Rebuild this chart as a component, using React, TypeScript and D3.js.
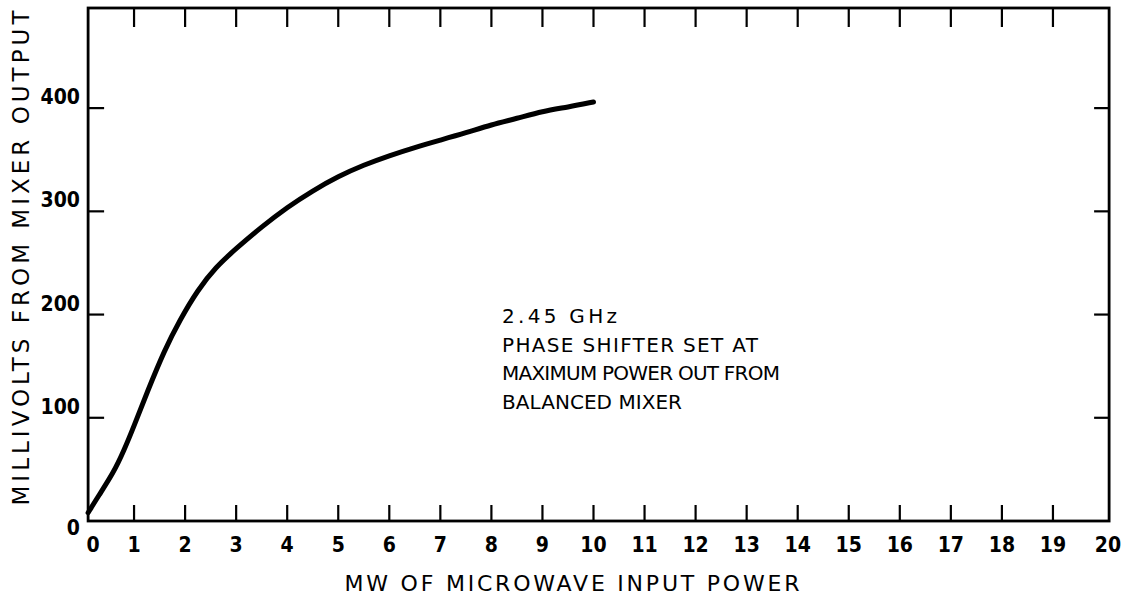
import * as d3 from "d3";

// curve: mW in -> mV out
const powerMw = [0.1, 0.3, 0.6, 0.8, 1.0, 1.25, 1.6, 1.9, 2.25, 2.6, 3.0, 3.5, 4.0, 4.5, 5.0, 5.5, 6.0, 6.5, 7.0, 7.5, 8.0, 8.5, 9.0, 9.5, 10.0];
const millivolts = [8, 24, 47, 68, 92, 124, 166, 195, 224, 246, 264, 285, 304, 320, 334, 345, 354, 362, 369, 376, 384, 390, 397, 401, 406];

const xTicks = d3.range(0, 21);
const yTicks = [0, 100, 200, 300, 400];
const xFrame = [0.1, 20.1];
const yMax = 497;

const noteLines = ["2.45 GHz", "PHASE SHIFTER SET AT", "MAXIMUM POWER OUT FROM", "BALANCED MIXER"];
const noteWidths = [115, 256, 278, 180];

const xTitle = "MW OF MICROWAVE INPUT POWER";
const yTitle = "MILLIVOLTS FROM MIXER OUTPUT";

const W = 1122;
const H = 603;
const font = "'DejaVu Sans', sans-serif";
const narrow = "'DejaVu Sans Condensed', 'DejaVu Sans', sans-serif";

export default function App() {
  const x = d3.scaleLinear().domain([0, 20]).range([83, 1104]);
  const y = d3.scaleLinear().domain([0, yMax]).range([521, 8]);

  const left = x(xFrame[0]);
  const right = x(xFrame[1]);
  const top = y(yMax);
  const bottom = y(0);

  const pts = powerMw.map((p, i) => [p, millivolts[i]] as [number, number]);
  const line = d3
    .line<[number, number]>()
    .x((d) => x(d[0]))
    .y((d) => y(d[1]))
    .curve(d3.curveBasis);

  const inner = xTicks.filter((t) => t > 0 && t < 20);
  const yInner = yTicks.filter((t) => t > 0);

  return (
    <div style={{ position: "fixed", left: 0, top: 0, background: "#fff" }}>
      <svg width={W} height={H} style={{ display: "block" }} fontFamily={font}>
        <rect x={0} y={0} width={W} height={H} fill="#fff" />

        {/* frame */}
        <rect
          x={left}
          y={top}
          width={right - left}
          height={bottom - top}
          fill="none"
          stroke="#000"
          strokeWidth={2.8}
        />

        {/* ticks along bottom and top */}
        {inner.map((t) => (
          <g key={"xt" + t}>
            <line x1={x(t)} x2={x(t)} y1={bottom} y2={bottom - 16} stroke="#000" strokeWidth={2.2} />
            <line x1={x(t)} x2={x(t)} y1={top} y2={top + 19} stroke="#000" strokeWidth={2.2} />
          </g>
        ))}

        {/* ticks along left and right */}
        {yInner.map((t) => (
          <g key={"yt" + t}>
            <line x1={left} x2={left + 16} y1={y(t)} y2={y(t)} stroke="#000" strokeWidth={2.2} />
            <line x1={right} x2={right - 15} y1={y(t)} y2={y(t)} stroke="#000" strokeWidth={2.2} />
          </g>
        ))}

        {/* tick labels */}
        <g fontFamily={narrow} style={{ fontStretch: "condensed" }} fontSize={21} fontWeight="bold">
          {xTicks.map((t) => (
            <text key={"xl" + t} x={x(t) + (t === 0 ? 10 : t === 20 ? 4 : 0)} y={552} textAnchor="middle">
              {t}
            </text>
          ))}
          {yTicks.map((t) => (
            <text key={"yl" + t} x={80} y={t === 0 ? y(t) + 14 : y(t) - 4} textAnchor="end">
              {t}
            </text>
          ))}
        </g>

        {/* curve */}
        <path
          d={line(pts) ?? ""}
          fill="none"
          stroke="#000"
          strokeWidth={5}
          strokeLinecap="round"
          strokeLinejoin="round"
        />

        {/* note */}
        {noteLines.map((s, i) => (
          <text
            key={"n" + i}
            x={502}
            y={323 + i * 28.5}
            fontSize={20}
            textLength={noteWidths[i]}
            lengthAdjust="spacing"
          >
            {s}
          </text>
        ))}

        {/* axis titles */}
        <text x={572} y={591} textAnchor="middle" fontSize={22} textLength={455} lengthAdjust="spacing">
          {xTitle}
        </text>
        <text
          transform={`translate(29,258) rotate(-90)`}
          textAnchor="middle"
          fontSize={23}
          textLength={495}
          lengthAdjust="spacing"
        >
          {yTitle}
        </text>
      </svg>
    </div>
  );
}
